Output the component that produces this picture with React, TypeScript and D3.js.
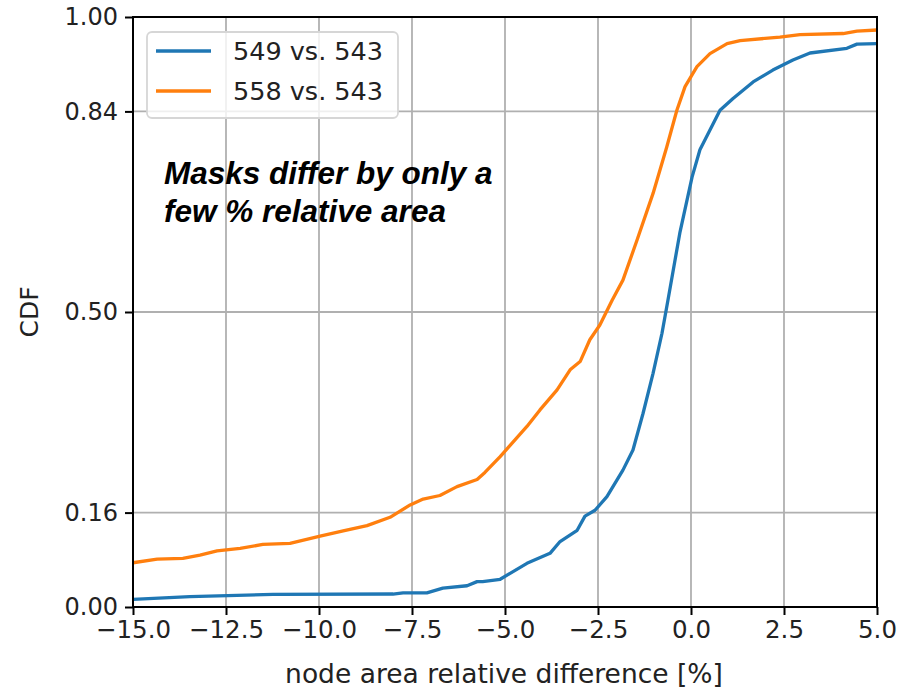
import React, { useEffect, useRef } from "react";
import * as d3 from "d3";

// 549 vs. 543 (blue)
const blueX = [-15.0, -13.47, -11.24, -8.01, -7.74, -7.1, -6.67, -6.02, -5.75, -5.6, -5.13, -4.41, -3.79, -3.52, -3.06, -2.85, -2.58, -2.26, -1.83, -1.56, -1.29, -1.02, -0.78, -0.62, -0.3, 0.03, 0.24, 0.78, 1.13, 1.67, 2.2, 2.74, 3.2, 4.19, 4.46, 5.0];
const blueY = [0.013, 0.0175, 0.0215, 0.022, 0.024, 0.024, 0.032, 0.036, 0.043, 0.043, 0.047, 0.074, 0.091, 0.111, 0.13, 0.154, 0.164, 0.187, 0.232, 0.266, 0.328, 0.396, 0.464, 0.52, 0.634, 0.729, 0.775, 0.842, 0.862, 0.89, 0.91, 0.927, 0.939, 0.947, 0.954, 0.955];

// 558 vs. 543 (orange)
const orangeX = [-15.0, -14.35, -13.66, -13.2, -12.74, -12.12, -11.51, -10.78, -9.97, -9.35, -8.71, -8.09, -7.55, -7.2, -6.75, -6.29, -5.75, -5.54, -5.13, -4.41, -4.06, -3.6, -3.25, -2.98, -2.72, -2.45, -2.12, -1.83, -1.45, -1.02, -0.65, -0.38, -0.16, 0.16, 0.51, 0.97, 1.32, 2.39, 2.93, 4.09, 4.46, 5.0];
const orangeY = [0.075, 0.081, 0.0825, 0.088, 0.095, 0.0995, 0.106, 0.108, 0.12, 0.129, 0.138, 0.152, 0.173, 0.183, 0.189, 0.204, 0.216, 0.228, 0.255, 0.306, 0.334, 0.368, 0.402, 0.416, 0.453, 0.478, 0.52, 0.554, 0.622, 0.701, 0.78, 0.842, 0.882, 0.916, 0.938, 0.955, 0.96, 0.966, 0.97, 0.972, 0.976, 0.978];

const xTicks = [-15, -12.5, -10, -7.5, -5, -2.5, 0, 2.5, 5];
const yTicks = [0, 0.16, 0.5, 0.84, 1.0];
const seriesNames = ["549 vs. 543", "558 vs. 543"];
const seriesColors = ["#1f77b4", "#ff7f0e"];

const App = () => {
  const ref = useRef<SVGSVGElement>(null);

  useEffect(() => {
    document.body.style.margin = "0";
    const width = 900;
    const height = 689;
    const left = 133, right = 877, top = 17, bottom = 607;
    const font = "DejaVu Sans, sans-serif";

    const svg = d3.select(ref.current).attr("width", width).attr("height", height);
    svg.selectAll("*").remove();
    svg.append("rect").attr("width", width).attr("height", height).attr("fill", "white");

    const x = d3.scaleLinear().domain([-15, 5]).range([left, right]);
    const y = d3.scaleLinear().domain([0, 1]).range([bottom, top]);

    // grid
    const grid = svg.append("g");
    xTicks.forEach((t) => {
      grid.append("line")
        .attr("x1", x(t)).attr("x2", x(t))
        .attr("y1", top).attr("y2", bottom)
        .attr("stroke", "#b0b0b0").attr("stroke-width", 1.8);
    });
    yTicks.forEach((t) => {
      grid.append("line")
        .attr("x1", left).attr("x2", right)
        .attr("y1", y(t)).attr("y2", y(t))
        .attr("stroke", "#b0b0b0").attr("stroke-width", 1.8);
    });

    // series
    const line = d3.line<[number, number]>().x((d) => x(d[0])).y((d) => y(d[1]));
    const blue = blueX.map((v, i) => [v, blueY[i]] as [number, number]);
    const orange = orangeX.map((v, i) => [v, orangeY[i]] as [number, number]);
    [blue, orange].forEach((data, i) => {
      svg.append("path")
        .attr("d", line(data))
        .attr("fill", "none")
        .attr("stroke", seriesColors[i])
        .attr("stroke-width", 3.3)
        .attr("stroke-linejoin", "round");
    });

    // axes frame
    svg.append("rect")
      .attr("x", left).attr("y", top)
      .attr("width", right - left).attr("height", bottom - top)
      .attr("fill", "none").attr("stroke", "black").attr("stroke-width", 2);

    const xAxis = d3.axisBottom(x).tickValues(xTicks).tickSize(8).tickPadding(6)
      .tickFormat((d) => d3.format(".1f")(d as number).replace("-", "−"));
    const gx = svg.append("g").attr("transform", `translate(0,${bottom})`).call(xAxis);
    gx.select(".domain").remove();
    gx.selectAll("line").attr("stroke", "black").attr("stroke-width", 2);
    gx.selectAll("text").attr("font-family", font).attr("font-size", 24.5).attr("fill", "#222");

    const yAxis = d3.axisLeft(y).tickValues(yTicks).tickSize(8).tickPadding(7)
      .tickFormat((d) => d3.format(".2f")(d as number));
    const gy = svg.append("g").attr("transform", `translate(${left},0)`).call(yAxis);
    gy.select(".domain").remove();
    gy.selectAll("line").attr("stroke", "black").attr("stroke-width", 2);
    gy.selectAll("text").attr("font-family", font).attr("font-size", 24).attr("fill", "#222");

    // axis labels
    svg.append("text")
      .attr("x", (left + right) / 2 - 1).attr("y", 683)
      .attr("text-anchor", "middle")
      .attr("font-family", font).attr("font-size", 26.5).attr("fill", "#222")
      .text("node area relative difference [%]");
    svg.append("text")
      .attr("transform", `translate(38,${(top + bottom) / 2}) rotate(-90)`)
      .attr("text-anchor", "middle")
      .attr("font-family", font).attr("font-size", 25).attr("fill", "#222")
      .text("CDF");

    // legend
    const lg = svg.append("g");
    lg.append("rect")
      .attr("x", 147).attr("y", 32).attr("width", 251).attr("height", 86)
      .attr("rx", 5).attr("fill", "white").attr("fill-opacity", 0.8)
      .attr("stroke", "#d6d6d6").attr("stroke-width", 1.8);
    seriesNames.forEach((name, i) => {
      const ly = 51 + i * 40;
      lg.append("line")
        .attr("x1", 156).attr("x2", 211).attr("y1", ly).attr("y2", ly)
        .attr("stroke", seriesColors[i]).attr("stroke-width", 3.3);
      lg.append("text")
        .attr("x", 233).attr("y", ly + 9)
        .attr("font-family", font).attr("font-size", 25.5).attr("fill", "#222")
        .text(name);
    });

    // annotation
    const note = ["Masks differ by only a", "few % relative area"];
    note.forEach((t, i) => {
      svg.append("text")
        .attr("x", 164).attr("y", 184 + i * 38)
        .attr("font-family", "Liberation Sans, Arial, sans-serif")
        .attr("font-size", 31.5).attr("font-weight", "bold").attr("font-style", "italic")
        .attr("fill", "black")
        .text(t);
    });
  }, []);

  return <svg ref={ref}></svg>;
};

export default App;
